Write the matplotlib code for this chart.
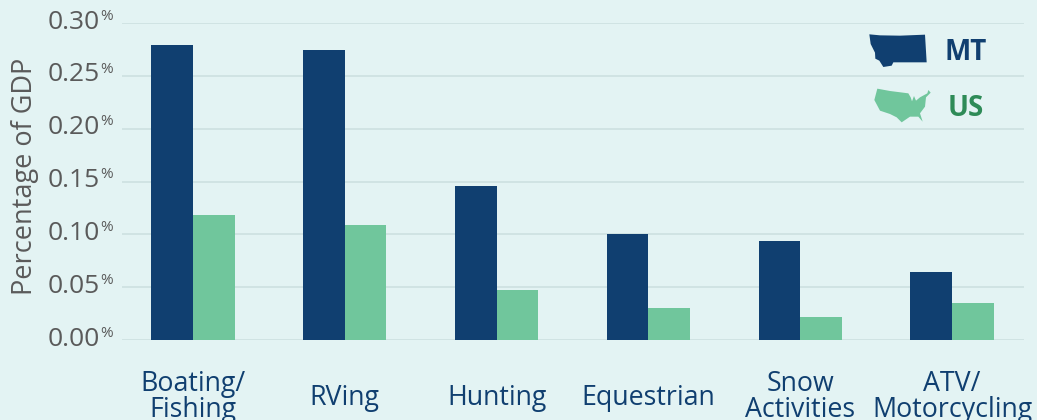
import matplotlib
matplotlib.use('Agg')
import matplotlib.pyplot as plt
from matplotlib.patches import Polygon
import numpy as np

plt.rcParams['font.family'] = 'Open Sans'

# Data
categories = ['Boating/\nFishing', 'RVing', 'Hunting', 'Equestrian', 'Snow\nActivities', 'ATV/\nMotorcycling']
mt_values = [0.279, 0.274, 0.146, 0.100, 0.094, 0.064]
us_values = [0.118, 0.109, 0.047, 0.030, 0.022, 0.035]
y_ticks = [0.00, 0.05, 0.10, 0.15, 0.20, 0.25, 0.30]

W, H = 1037, 420
bg = '#E3F3F3'
navy = '#103F70'
green = '#70C69C'
grey = '#5A5A5A'

fig = plt.figure(figsize=(W / 100, H / 100), dpi=100, facecolor=bg)
ax = fig.add_axes([122 / W, (H - 340) / H, 902 / W, 317 / H], facecolor=bg)

x = np.arange(len(categories))
bar_w = 0.274
ax.bar(x - bar_w / 2, mt_values, bar_w, color=navy, zorder=3)
ax.bar(x + bar_w / 2, us_values, bar_w, color=green, zorder=3)

ax.set_xlim(-0.468, 5.474)
ax.set_ylim(0, 0.30)
ax.set_yticks(y_ticks)
ax.set_yticklabels([])
ax.set_xticks([])
ax.tick_params(length=0)
ax.grid(True, axis='y', color='#CFE2E2', linewidth=1.3, zorder=0)
ax.set_axisbelow(True)
for s in ax.spines.values():
    s.set_visible(False)

# y tick labels with a small raised percent sign
for t in y_ticks:
    py = ax.transData.transform((0, t))[1] / H
    fig.text(100 / W, py + 0.002, f'{t:.2f}', ha='right', va='center', fontsize=19, color=grey)
    fig.text(100.5 / W, py + 0.016, '%', ha='left', va='center', fontsize=11, color=grey)

fig.text(25 / W, (H - 176) / H, 'Percentage of GDP', rotation=90, ha='center', va='center',
         fontsize=19.5, color=grey)

# category labels, the last lines run off the bottom edge like the original
for i, name in enumerate(categories):
    px = ax.transData.transform((i, 0))[0] / W
    lines = name.split('\n')
    if len(lines) == 2:
        fig.text(px, (H - 384) / H, lines[0], ha='center', va='center', fontsize=19.3, color=navy)
        fig.text(px, (H - 410) / H, lines[1], ha='center', va='center', fontsize=19.3, color=navy)
    else:
        fig.text(px, (H - 398) / H, name, ha='center', va='center', fontsize=19.3, color=navy)

# legend icons, outlines traced in crop coordinates of the legend area
def add_icon(points, color):
    pts = [((840 + a / 3) / W, (H - (10 + b / 3)) / H) for a, b in points]
    fig.add_artist(Polygon(pts, closed=True, facecolor=color, edgecolor='none', transform=fig.transFigure))

montana = [(88, 73), (120, 76), (180, 77), (255, 74), (260, 157), (160, 157), (155, 167), (130, 171),
           (118, 152), (106, 146), (105, 128), (92, 102)]
usa = [(112, 236), (150, 243), (205, 250), (212, 262), (216, 274), (222, 258), (228, 272), (240, 262),
       (262, 250), (265, 240), (272, 248), (258, 262), (255, 290), (240, 310), (248, 335), (235, 320),
       (210, 320), (185, 337), (170, 322), (150, 312), (120, 302), (103, 270)]
add_icon(montana, navy)
add_icon(usa, green)
fig.text(966 / W, (H - 52) / H, 'MT', ha='center', va='center', fontsize=20, fontweight='bold', color=navy)
fig.text(966 / W, (H - 108) / H, 'US', ha='center', va='center', fontsize=20, fontweight='bold', color='#2E8B57')

fig.savefig('out.png', dpi=100, facecolor=bg)
